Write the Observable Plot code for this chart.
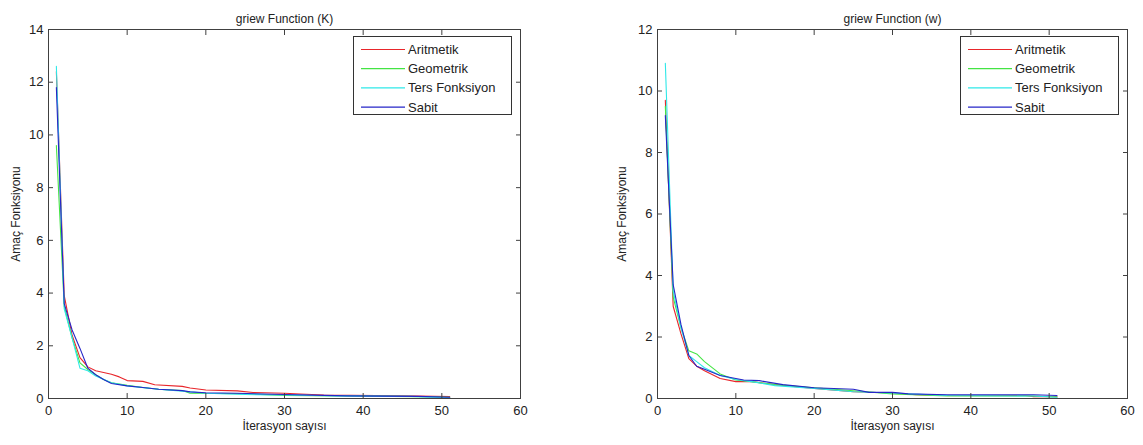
<!DOCTYPE html>
<html>
<head>
<meta charset="utf-8">
<script src="https://cdn.jsdelivr.net/npm/d3@7"></script>
<script src="https://cdn.jsdelivr.net/npm/@observablehq/plot@0.6"></script>
<style>
  html, body { margin: 0; padding: 0; background: #fff; }
  #root { position: relative; width: 1143px; height: 445px; overflow: hidden; background: #fff; font-family: "Liberation Sans", Arial, sans-serif; }
  .panel { position: absolute; top: 0; }
  .legend { position: absolute; box-sizing: border-box; border: 1px solid #333; background: #fff; }
  .legend svg { overflow: visible; display: block; }
</style>
</head>
<body>
<div id="root"></div>
<script>
// ---------- data ----------
const seriesNames = ["Aritmetik", "Geometrik", "Ters Fonksiyon", "Sabit"];
const seriesColors = ["#e8262b", "#44e444", "#2ee8e8", "#2626c8"];
const xTicks = [0, 10, 20, 30, 40, 50, 60];
const yTicksK = [0, 2, 4, 6, 8, 10, 12, 14];
const yTicksW = [0, 2, 4, 6, 8, 10, 12];

// Panel K (left)
const kAritX = [1, 2, 3, 4, 5, 6, 8, 9, 10, 12, 13.5, 17, 18, 20, 24, 26, 30, 32, 35, 45, 51];
const kAritY = [12.4, 3.9, 2.4, 1.55, 1.2, 1.05, 0.92, 0.82, 0.68, 0.65, 0.52, 0.46, 0.4, 0.32, 0.29, 0.23, 0.2, 0.17, 0.13, 0.1, 0.07];
const kGeoX = [1, 2, 3, 4, 5, 6, 7, 8, 10, 12, 14, 17, 18, 25, 30, 37, 47, 51];
const kGeoY = [9.6, 3.5, 2.3, 1.35, 1.1, 0.9, 0.72, 0.6, 0.5, 0.42, 0.35, 0.3, 0.2, 0.18, 0.12, 0.1, 0.07, 0.05];
const kTersX = [1, 2, 3, 4, 5, 6, 8, 10, 14, 17, 20, 25, 30, 37, 46, 51];
const kTersY = [12.6, 3.4, 2.3, 1.15, 1.05, 0.85, 0.6, 0.48, 0.35, 0.28, 0.2, 0.15, 0.13, 0.1, 0.08, 0.03];
const kSabX = [1, 2, 3, 4, 5, 6, 7, 8, 10, 12, 14, 17, 18, 20, 24, 30, 35, 38, 47, 51];
const kSabY = [11.8, 3.6, 2.6, 1.9, 1.15, 0.9, 0.72, 0.57, 0.48, 0.42, 0.35, 0.3, 0.25, 0.22, 0.2, 0.15, 0.12, 0.1, 0.08, 0.05];

// Panel w (right)
const wAritX = [1, 2, 3, 4, 5, 6, 8, 10, 12, 15, 20, 25, 30, 33, 37, 47, 48, 51];
const wAritY = [9.7, 3.0, 2.1, 1.3, 1.05, 0.9, 0.65, 0.55, 0.55, 0.45, 0.33, 0.22, 0.18, 0.12, 0.1, 0.1, 0.06, 0.06];
const wGeoX = [1, 2, 3, 4, 5, 6, 8, 10, 12, 15, 20, 25, 30, 37, 48, 51];
const wGeoY = [9.5, 3.3, 2.3, 1.55, 1.45, 1.2, 0.8, 0.6, 0.55, 0.45, 0.35, 0.25, 0.15, 0.08, 0.08, 0.05];
const wTersX = [1, 2, 3, 4, 5, 6, 8, 10, 12, 15, 20, 25, 30, 37, 48, 51];
const wTersY = [10.9, 3.5, 2.3, 1.4, 1.2, 1.0, 0.75, 0.62, 0.55, 0.42, 0.33, 0.22, 0.18, 0.1, 0.08, 0.04];
const wSabX = [1, 2, 3, 4, 5, 6, 8, 10, 11, 13, 16, 20, 25, 27, 30, 32, 37, 48, 51];
const wSabY = [9.2, 3.7, 2.4, 1.4, 1.05, 0.95, 0.75, 0.65, 0.6, 0.58, 0.45, 0.35, 0.3, 0.2, 0.2, 0.15, 0.12, 0.12, 0.1];

const titleK = "griew Function (K)";
const titleW = "griew Function (w)";
const xLabel = "İterasyon sayısı";
const yLabel = "Amaç Fonksiyonu";

// ---------- build ----------
function toRows(xs, ys, name) { return xs.map((x, i) => ({x, y: ys[i], s: name})); }

const kRows = [
  ...toRows(kAritX, kAritY, seriesNames[0]),
  ...toRows(kGeoX, kGeoY, seriesNames[1]),
  ...toRows(kTersX, kTersY, seriesNames[2]),
  ...toRows(kSabX, kSabY, seriesNames[3])
];
const wRows = [
  ...toRows(wAritX, wAritY, seriesNames[0]),
  ...toRows(wGeoX, wGeoY, seriesNames[1]),
  ...toRows(wTersX, wTersY, seriesNames[2]),
  ...toRows(wSabX, wSabY, seriesNames[3])
];

function panel({rows, yMax, yTicks, title, width, marginLeft, marginRight, yLabelDx}) {
  const axisColor = "#404040";
  return Plot.plot({
    width, height: 445,
    marginLeft, marginRight, marginTop: 29, marginBottom: 47,
    x: {domain: [0, 60]},
    y: {domain: [0, yMax]},
    color: {domain: seriesNames, range: seriesColors},
    style: {fontFamily: "'Liberation Sans', Arial, sans-serif", fontSize: "13px", color: "#222", background: "transparent", overflow: "visible"},
    marks: [
      ...seriesNames.map(n => Plot.line(rows.filter(r => r.s === n), {x: "x", y: "y", stroke: "s", strokeWidth: 1.1})),
      Plot.frame({stroke: axisColor, strokeWidth: 1}),
      Plot.axisX({ticks: xTicks, anchor: "bottom", tickSize: 0, tickPadding: 7, label: null, fontSize: 13}),
      Plot.axisY({ticks: yTicks, anchor: "left", tickSize: 0, tickPadding: 5, label: null, fontSize: 13}),
      Plot.axisX({ticks: xTicks, anchor: "bottom", tickSize: -5, tickFormat: () => "", label: null, stroke: axisColor}),
      Plot.axisX({ticks: xTicks, anchor: "top", tickSize: -5, tickFormat: () => "", label: null, stroke: axisColor}),
      Plot.axisY({ticks: yTicks, anchor: "left", tickSize: -5, tickFormat: () => "", label: null, stroke: axisColor}),
      Plot.axisY({ticks: yTicks, anchor: "right", tickSize: -5, tickFormat: () => "", label: null, stroke: axisColor}),
      Plot.text([title], {text: d => d, frameAnchor: "top", dy: -15, textAnchor: "middle", fontSize: 12, fill: "#222"}),
      Plot.text([xLabel], {text: d => d, frameAnchor: "bottom", dy: 31, textAnchor: "middle", fontSize: 12, fill: "#222"}),
      Plot.text([yLabel], {text: d => d, frameAnchor: "left", dx: yLabelDx, rotate: -90, textAnchor: "middle", fontSize: 12, fill: "#222"})
    ]
  });
}

function legend(left, top) {
  const div = document.createElement("div");
  div.className = "legend";
  div.style.left = left + "px";
  div.style.top = top + "px";
  div.style.width = "159px";
  div.style.height = "79px";
  const svg = d3.create("svg").attr("width", 157).attr("height", 77);
  seriesNames.forEach((n, i) => {
    const y = 12.5 + i * 19.2;
    svg.append("line").attr("x1", 7).attr("x2", 51).attr("y1", y).attr("y2", y)
      .attr("stroke", seriesColors[i]).attr("stroke-width", 1.2);
    svg.append("text").attr("x", 54).attr("y", y).attr("dy", "0.35em")
      .attr("font-family", "'Liberation Sans', Arial, sans-serif").attr("font-size", 13)
      .attr("fill", "#222").text(n);
  });
  div.appendChild(svg.node());
  return div;
}

const root = document.getElementById("root");
const left = panel({rows: kRows, yMax: 14, yTicks: yTicksK, title: titleK, width: 560, marginLeft: 48, marginRight: 40, yLabelDx: -32});
left.classList.add("panel"); left.style.left = "0px";
const right = panel({rows: wRows, yMax: 12, yTicks: yTicksW, title: titleW, width: 583, marginLeft: 97, marginRight: 16, yLabelDx: -35});
right.classList.add("panel"); right.style.left = "560px";
root.appendChild(left);
root.appendChild(right);
root.appendChild(legend(353, 36));
root.appendChild(legend(960, 36));
</script>
</body>
</html>
